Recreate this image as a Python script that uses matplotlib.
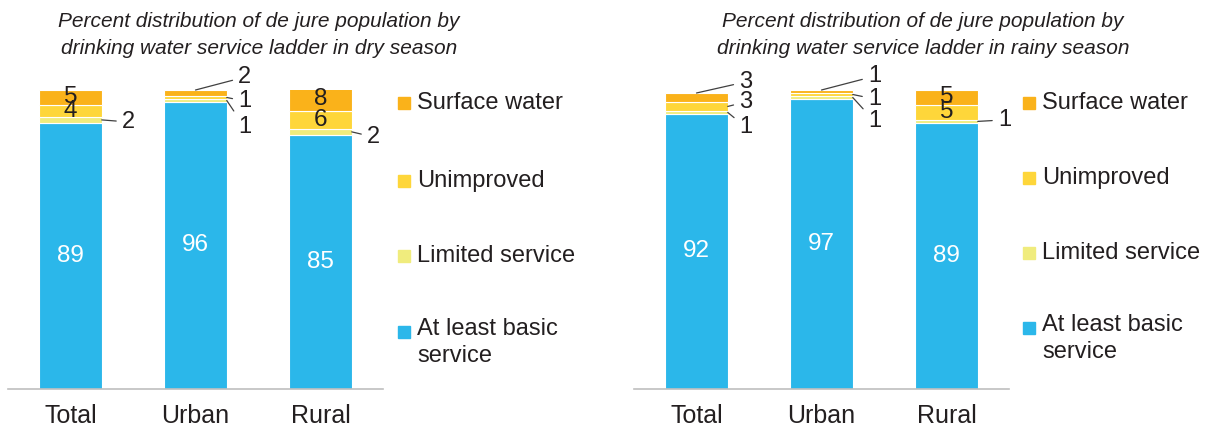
import matplotlib
matplotlib.use("Agg")
import matplotlib.pyplot as plt
from matplotlib.patches import Rectangle

plt.rcParams["font.family"] = ["Liberation Sans", "DejaVu Sans"]

CATEGORIES = ["Total", "Urban", "Rural"]
LADDER = ["At least basic\nservice", "Limited service", "Unimproved", "Surface water"]
COLORS = ["#2BB7EA", "#F0EC7D", "#FED63A", "#FAB21A"]
TEXT = "#231F20"

# values per category, bottom to top: basic, limited, unimproved, surface
DRY_BASIC = [89, 96, 85]
DRY_LIMITED = [2, 1, 2]
DRY_UNIMPROVED = [4, 1, 6]
DRY_SURFACE = [5, 2, 8]

RAINY_BASIC = [92, 97, 89]
RAINY_LIMITED = [1, 1, 1]
RAINY_UNIMPROVED = [3, 1, 5]
RAINY_SURFACE = [3, 1, 5]

TITLES = [
    "Percent distribution of de jure population by\ndrinking water service ladder in dry season",
    "Percent distribution of de jure population by\ndrinking water service ladder in rainy season",
]

# leader-line labels: (category, layer, text x, text y, attach at top?)
DRY_LEADERS = [(0, 1, 0.41, 89.3, False), (1, 3, 1.34, 104.3, True),
               (1, 2, 1.34, 96.3, False), (1, 1, 1.34, 87.6, False),
               (2, 1, 2.37, 84.3, False)]
RAINY_LEADERS = [(0, 3, 0.34, 102.7, True), (0, 2, 0.34, 96.0, False),
                 (0, 1, 0.34, 87.6, False), (1, 3, 1.37, 104.6, True),
                 (1, 2, 1.37, 97.0, False), (1, 1, 1.37, 89.6, False),
                 (2, 1, 2.41, 90.0, False)]


def panel(fig, rect, layers, leaders, title, title_x, leg_x, leg_ys):
    ax = fig.add_axes(rect)
    x = range(len(CATEGORIES))
    bottoms = [0] * len(CATEGORIES)
    mids = []
    for vals, col in zip(layers, COLORS):
        ax.bar(x, vals, 0.5, bottom=bottoms, color=col, edgecolor="white", linewidth=0.8)
        mids.append([b + v / 2 for b, v in zip(bottoms, vals)])
        bottoms = [b + v for b, v in zip(bottoms, vals)]
    leader_keys = {(c, l) for c, l, *_ in leaders}
    for li, vals in enumerate(layers):
        for ci, v in enumerate(vals):
            if (ci, li) in leader_keys:
                continue
            ax.text(ci, mids[li][ci], str(v), ha="center", va="center", fontsize=17.5,
                    color="white" if li == 0 else TEXT)
    for ci, li, tx, ty, top in leaders:
        if top:
            xy = (ci, bottoms[ci])
        else:
            xy = (ci + 0.25, mids[li][ci])
        ax.annotate(str(layers[li][ci]), xy=xy, xytext=(tx, ty), ha="left", va="center",
                    fontsize=17, color=TEXT, annotation_clip=False,
                    arrowprops=dict(arrowstyle="-", color="#404040", lw=0.9,
                                    shrinkA=2, shrinkB=0))
    ax.set_xlim(-0.5, 2.5)
    ax.set_ylim(0, 100)
    ax.set_xticks(list(x))
    ax.set_xticklabels(CATEGORIES, fontsize=18, color=TEXT)
    ax.tick_params(axis="x", length=0, pad=11)
    ax.set_yticks([])
    for s in ["top", "right", "left"]:
        ax.spines[s].set_visible(False)
    ax.spines["bottom"].set_color("#BFBFBF")
    ax.spines["bottom"].set_linewidth(1.2)
    ax.set_facecolor("none")

    fig.text(title_x, 1 - 35 / 430, title, ha="center", va="center", fontsize=15,
             style="italic", color=TEXT, linespacing=1.55)
    for lab, col, ly in zip(LADDER[::-1], COLORS[::-1], leg_ys):
        fig.patches.append(Rectangle((leg_x / 1208, 1 - (ly + 6) / 430), 12 / 1208, 12 / 430,
                                     transform=fig.transFigure, color=col))
        if "\n" in lab:
            fig.text((leg_x + 19) / 1208, 1 - (ly - 14) / 430, lab, ha="left", va="top",
                     fontsize=17, color=TEXT, linespacing=1.3)
        else:
            fig.text((leg_x + 19) / 1208, 1 - ly / 430, lab, ha="left", va="center",
                     fontsize=17, color=TEXT)
    return ax


fig = plt.figure(figsize=(12.08, 4.3), dpi=100)
panel(fig, [8 / 1208, 41 / 430, 375 / 1208, 299 / 430],
      [DRY_BASIC, DRY_LIMITED, DRY_UNIMPROVED, DRY_SURFACE], DRY_LEADERS,
      TITLES[0], 259 / 1208, 398, [103, 181, 256, 332])
panel(fig, [634 / 1208, 41 / 430, 375 / 1208, 299 / 430],
      [RAINY_BASIC, RAINY_LIMITED, RAINY_UNIMPROVED, RAINY_SURFACE], RAINY_LEADERS,
      TITLES[1], 923 / 1208, 1023, [103, 178, 253, 328])
fig.savefig("out.png", dpi=100)
